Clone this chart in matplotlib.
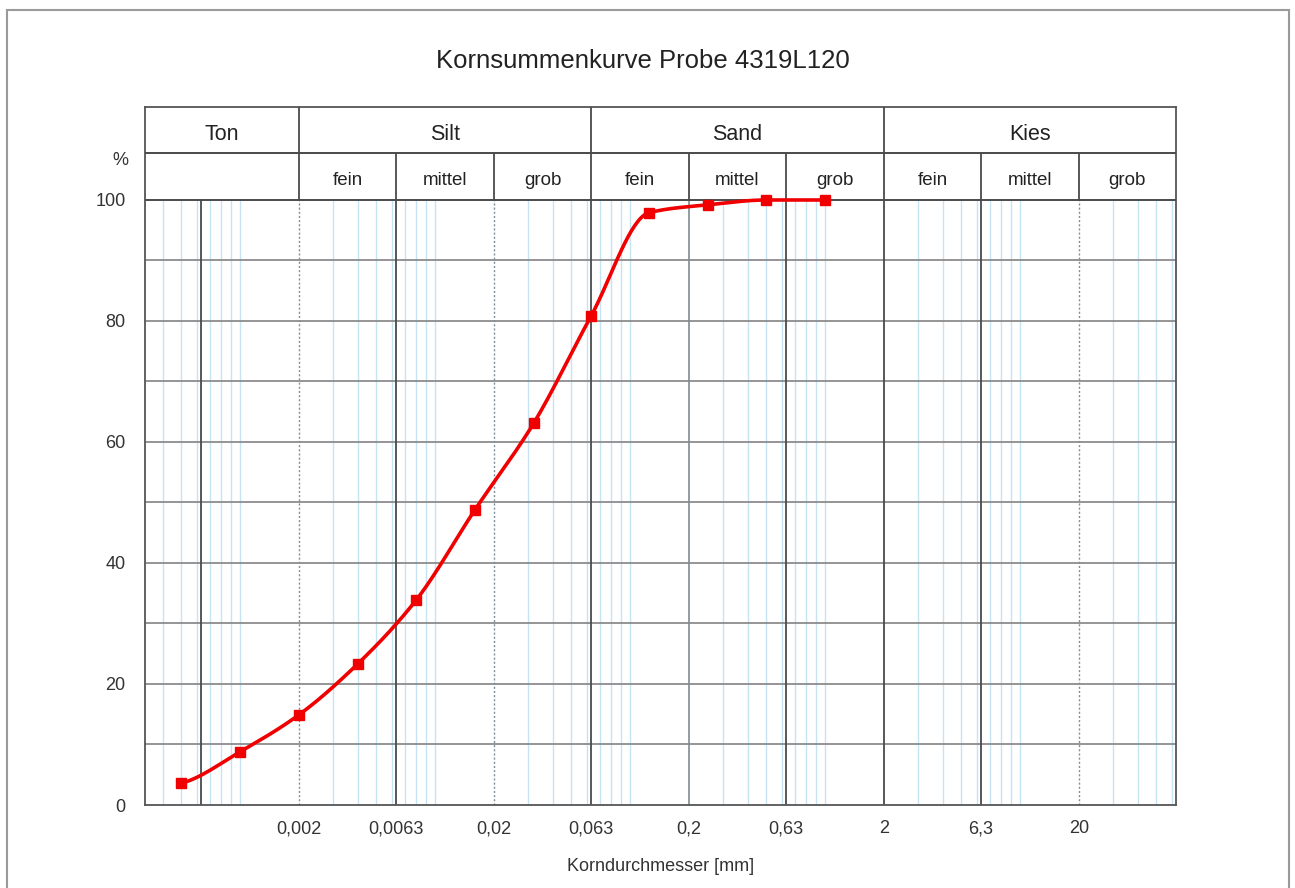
import numpy as np
import matplotlib
matplotlib.use("Agg")
import matplotlib.pyplot as plt
from matplotlib.patches import Rectangle

plt.rcParams['font.family'] = ['Liberation Sans', 'DejaVu Sans']

# Messwerte Siebung / Sedimentation
korn_d = [0.0005, 0.001, 0.002, 0.004, 0.008, 0.016, 0.032, 0.063, 0.125, 0.25, 0.5, 1.0]
durchgang = [3.6, 8.8, 14.9, 23.3, 33.9, 48.8, 63.1, 80.8, 97.9, 99.2, 100.0, 100.0]

x_ticks = [0.002, 0.0063, 0.02, 0.063, 0.2, 0.63, 2, 6.3, 20]
x_labels = ['0,002', '0,0063', '0,02', '0,063', '0,2', '0,63', '2', '6,3', '20']
y_ticks = [0, 20, 40, 60, 80, 100]

haupt = ['Ton', 'Silt', 'Sand', 'Kies']
haupt_grenzen = [0.000325, 0.002, 0.063, 2, 63]
unter = ['fein', 'mittel', 'grob']
unter_grenzen = [[0.002, 0.0063, 0.02, 0.063],
                 [0.063, 0.2, 0.63, 2],
                 [2, 6.3, 20, 63]]


def pchip(x, y, xn):
    # monotone kubische Interpolation (fuer die glatte Kurve)
    x = np.asarray(x, float)
    y = np.asarray(y, float)
    h = np.diff(x)
    d = np.diff(y) / h
    m = np.zeros_like(y)
    for k in range(1, len(x) - 1):
        if d[k - 1] * d[k] > 0:
            w1 = 2 * h[k] + h[k - 1]
            w2 = h[k] + 2 * h[k - 1]
            m[k] = (w1 + w2) / (w1 / d[k - 1] + w2 / d[k])
    m[0] = 0.5 * d[0]
    m[-1] = 0.0
    idx = np.clip(np.searchsorted(x, xn) - 1, 0, len(x) - 2)
    t = (xn - x[idx]) / h[idx]
    h00 = 2 * t**3 - 3 * t**2 + 1
    h10 = t**3 - 2 * t**2 + t
    h01 = -2 * t**3 + 3 * t**2
    h11 = t**3 - t**2
    return h00 * y[idx] + h10 * h[idx] * m[idx] + h01 * y[idx + 1] + h11 * h[idx] * m[idx + 1]


fig = plt.figure(figsize=(12.95, 8.88), dpi=100)
ax = fig.add_axes([145 / 1295, 83 / 888, 1031 / 1295, 698 / 888])
ax.set_xscale('log')
ax.set_xlim(haupt_grenzen[0], haupt_grenzen[-1])
kopf_mitte = 107.77
kopf_oben = 115.37
ax.set_ylim(0, kopf_oben)

# feine blaue Linien
fein = []
for dek in [0.0001, 0.001, 0.01, 0.1, 1, 10]:
    for f in [3, 4, 5, 6, 7, 8, 9, 10]:
        v = f * dek
        if haupt_grenzen[0] < v < haupt_grenzen[-1]:
            fein.append(v)
ax.vlines(fein, 0, 100, color='#c4e4f4', lw=1.0, zorder=1)

# waagerechte Linien
ax.hlines(np.arange(10, 100, 10), haupt_grenzen[0], haupt_grenzen[-1], color='#8c8c8c', lw=1.3, zorder=2)
ax.hlines([100, kopf_mitte], haupt_grenzen[0], haupt_grenzen[-1], color='#4a4a4a', lw=1.4, zorder=3)

# senkrechte Hauptlinien
ax.vlines([0.00063, 0.0063, 0.063, 0.63, 2, 6.3], 0, 100, color='#4a4a4a', lw=1.3, zorder=2)
ax.vlines([0.2], 0, 100, color='#7f8c92', lw=1.2, zorder=2)
ax.vlines([0.002, 0.02, 20], 0, 100, color='#7f8f98', lw=1.0, linestyles=(0, (1.5, 1.5)), zorder=2)

# Kopfzeilen
ax.vlines(haupt_grenzen[1:-1], 100, kopf_oben, color='#4a4a4a', lw=1.3, zorder=3)
for grenzen in unter_grenzen:
    ax.vlines(grenzen[1:-1], 100, kopf_mitte, color='#4a4a4a', lw=1.3, zorder=3)

for i, name in enumerate(haupt):
    xm = np.sqrt(haupt_grenzen[i] * haupt_grenzen[i + 1])
    ax.text(xm, 110.9, name, ha='center', va='center', fontsize=15.5, color='#222222')
for grenzen in unter_grenzen:
    for j, name in enumerate(unter):
        xm = np.sqrt(grenzen[j] * grenzen[j + 1])
        ax.text(xm, 103.3, name, ha='center', va='center', fontsize=13.5, color='#222222')

ax.text(-0.024, 106.6, '%', transform=ax.get_yaxis_transform(), ha='center', va='center',
        fontsize=13, color='#333333')

# Kornsummenkurve
lx = np.log10(korn_d)
lx_fein = np.linspace(lx[0], lx[-1], 400)
ax.plot(10**lx_fein, pchip(lx, durchgang, lx_fein), color='#f00000', lw=2.6, zorder=5,
        solid_capstyle='round')
ax.plot(korn_d, durchgang, ls='none', marker='s', ms=6.5, color='#f00000', zorder=6)

ax.set_xticks(x_ticks)
ax.set_xticklabels(x_labels)
ax.minorticks_off()
ax.set_yticks(y_ticks)
ax.tick_params(length=0, labelsize=13, labelcolor='#333333')
ax.tick_params(axis='x', pad=11)
ax.tick_params(axis='y', pad=14)
ax.set_xlabel('Korndurchmesser [mm]', fontsize=13, color='#333333', labelpad=15)
for s in ax.spines.values():
    s.set_color('#555555')
    s.set_linewidth(1.3)

fig.text(643 / 1295, 1 - 61 / 888, 'Kornsummenkurve Probe 4319L120', ha='center', va='center',
         fontsize=18.5, color='#222222')

fig.patches.append(Rectangle((7 / 1295, -0.05), 1282 / 1295, 1.05 - 10 / 888, transform=fig.transFigure,
                             fill=False, edgecolor='#9a9a9a', lw=1.5))

fig.savefig('out.png', dpi=100)
